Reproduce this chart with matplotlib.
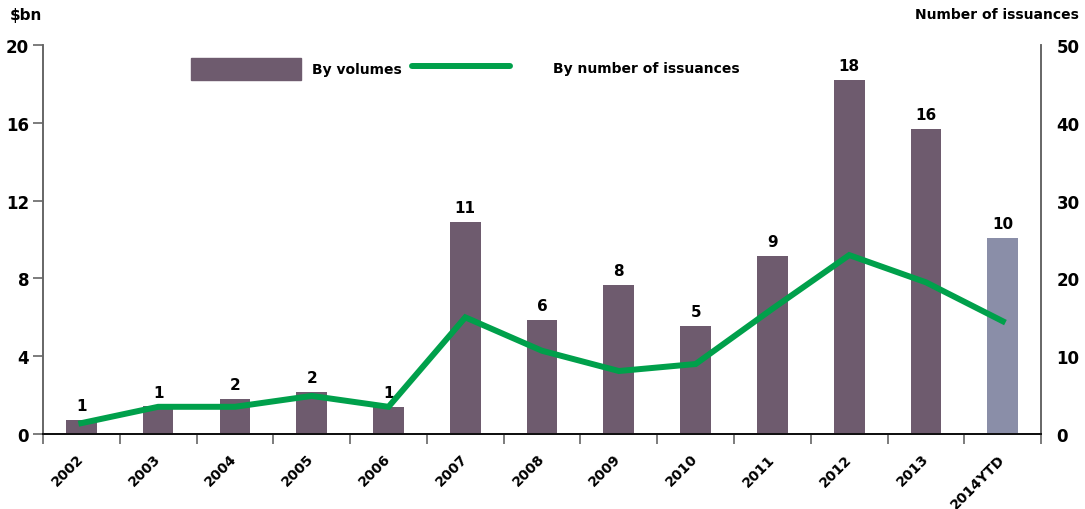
import numpy as np
import matplotlib
matplotlib.use("Agg")
import matplotlib.pyplot as plt
from matplotlib.patches import Patch
from matplotlib.lines import Line2D

years = ['2002', '2003', '2004', '2005', '2006', '2007', '2008', '2009',
         '2010', '2011', '2012', '2013', '2014YTD']
volumes = [0.72, 1.42, 1.8, 2.17, 1.4, 10.9, 5.86, 7.66, 5.55, 9.15, 18.2, 15.7, 10.08]
vol_labels = ['1', '1', '2', '2', '1', '11', '6', '8', '5', '9', '18', '16', '10']
issuances = [1.4, 3.5, 3.5, 4.9, 3.5, 15.0, 10.7, 8.1, 9.0, 16.1, 23.0, 19.5, 14.5]

bar_col = '#6e5b6e'
ytd_col = '#8a8ea8'
green = '#00a04b'

plt.rcParams['font.family'] = ['DejaVu Sans']
plt.rcParams['font.weight'] = 'bold'

fig = plt.figure(figsize=(10.85, 5.1), dpi=100)
ax = fig.add_axes([0.0396, 0.147, 0.92, 0.7627])
ax2 = ax.twinx()

x = np.arange(len(years))
colors = [bar_col] * (len(years) - 1) + [ytd_col]
ax.bar(x, volumes, width=0.4, color=colors, zorder=2)
for xi, v, lab in zip(x, volumes, vol_labels):
    ax.text(xi, v + 0.35, lab, ha='center', va='bottom', fontsize=11, fontweight='bold')

ax2.plot(x, issuances, color=green, linewidth=4.3, solid_joinstyle='miter', zorder=3)

ax.set_xlim(-0.5, len(years) - 0.5)
ax.set_ylim(0, 20)
ax.set_yticks([0, 4, 8, 12, 16, 20])
ax2.set_ylim(0, 50)
ax2.set_yticks([0, 10, 20, 30, 40, 50])

ax.set_xticks(np.arange(-0.5, len(years) + 0.5, 1))
ax.set_xticklabels([])
ax.set_xticks(x, minor=True)
ax.set_xticklabels(years, minor=True, rotation=45, ha='right', va='center',
                   rotation_mode='anchor', fontsize=10, fontweight='bold')
ax.tick_params(axis='x', which='minor', length=0, pad=16)
ax.tick_params(axis='x', which='major', length=7, width=1.2, color='#666666', direction='out')
ax.tick_params(axis='y', length=7, width=1.2, color='#666666', labelsize=12, pad=3)
ax2.tick_params(axis='y', length=0, labelsize=12, pad=11)
for lab in ax.get_yticklabels() + ax2.get_yticklabels():
    lab.set_fontweight('bold')

for a in (ax, ax2):
    a.spines['top'].set_visible(False)
    a.spines['left'].set_color('#666666')
    a.spines['right'].set_color('#666666')
    a.spines['left'].set_linewidth(1.2)
    a.spines['right'].set_linewidth(1.2)
    a.spines['bottom'].set_color('#111111')
    a.spines['bottom'].set_linewidth(1.4)

fig.text(0.009, 0.97, '$bn', fontsize=11, fontweight='bold', ha='left', va='center')
fig.text(0.994, 0.97, 'Number of issuances', fontsize=10, fontweight='bold', ha='right', va='center')

leg1 = ax.legend([Patch(color=bar_col)], ['By volumes'], loc='upper left',
                 bbox_to_anchor=(0.136, 1.0), frameon=False, handlelength=7.9,
                 handleheight=2.1, handletextpad=0.8, prop={'weight': 'bold', 'size': 10})
ax.add_artist(leg1)
ax.legend([Line2D([0], [0], color=green, linewidth=4.3, solid_capstyle='round')],
          ['By number of issuances'], loc='upper left',
          bbox_to_anchor=(0.357, 0.992), frameon=False, handlelength=7.1,
          handleheight=1.0, handletextpad=3.1, prop={'weight': 'bold', 'size': 10})

fig.savefig('out.png', dpi=100)
